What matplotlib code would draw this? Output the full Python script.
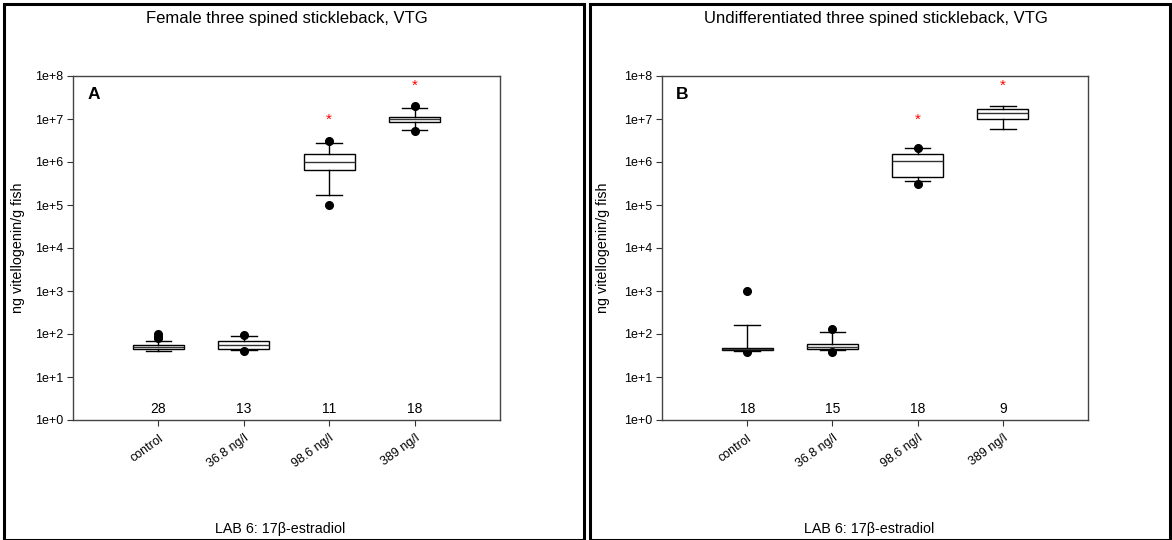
import math
import matplotlib
matplotlib.use("Agg")
import matplotlib.pyplot as plt
from matplotlib.patches import Rectangle
from matplotlib.ticker import FixedLocator, FuncFormatter, NullLocator
import matplotlib.transforms as mtransforms

plt.rcParams["font.family"] = ["Liberation Sans", "DejaVu Sans"]

# ---- data -------------------------------------------------------------
groups = ["control", "36.8 ng/l", "98.6 ng/l", "389 ng/l"]

female_title = "Female three spined stickleback, VTG"
female_n = [28, 13, 11, 18]
female_whislo = [40, 42, 1.7e5, 5.5e6]
female_q1 = [44, 46, 6.5e5, 8.4e6]
female_med = [49, 56, 9.8e5, 9.8e6]
female_q3 = [56, 70, 1.5e6, 1.12e7]
female_whishi = [68, 91, 2.7e6, 1.78e7]
female_fliers = [[80, 87, 100], [40, 97], [1.0e5, 3.1e6], [5.3e6, 2.0e7]]

undiff_title = "Undifferentiated three spined stickleback, VTG"
undiff_n = [18, 15, 18, 9]
undiff_whislo = [41, 42, 3.7e5, 5.9e6]
undiff_q1 = [42, 46, 4.5e5, 1.0e7]
undiff_med = [44, 50, 1.07e6, 1.35e7]
undiff_q3 = [47, 58, 1.5e6, 1.7e7]
undiff_whishi = [165, 113, 2.1e6, 2.0e7]
undiff_fliers = [[39, 1000], [38, 128], [3.1e5, 2.1e6], []]

# significance markers (group index, height)
star_groups = [2, 3]
star_y = [1.2e7, 7.4e7]

ylabel = "ng vitellogenin/g fish"
xlabel = "LAB 6: 17\u03b2-estradiol"

# ---- figure -----------------------------------------------------------
W, H = 1172, 540
fig = plt.figure(figsize=(W / 100, H / 100), dpi=100)


def px(x0, y0, w, h):
    return [x0 / W, 1 - (y0 + h) / H, w / W, h / H]


def panel(ax_rect, title, letter, n, whislo, q1, med, q3, whishi, fliers,
          frame, title_x, ylabel_x):
    ax = fig.add_axes(px(*ax_rect))
    stats = []
    for i in range(len(groups)):
        stats.append(dict(whislo=whislo[i], q1=q1[i], med=med[i], q3=q3[i],
                          whishi=whishi[i], fliers=fliers[i], label=groups[i]))
    pos = list(range(1, len(groups) + 1))
    ax.bxp(stats, positions=pos, widths=0.6, capwidths=0.3, showfliers=True,
           patch_artist=True,
           boxprops=dict(facecolor="white", edgecolor="black", linewidth=1.0),
           medianprops=dict(color="#333333", linewidth=1.0),
           whiskerprops=dict(color="black", linewidth=1.0),
           capprops=dict(color="black", linewidth=1.0),
           flierprops=dict(marker="o", markerfacecolor="black",
                           markeredgecolor="black", markersize=5.5))
    ax.set_yscale("log")
    ax.set_ylim(1, 1e8)
    ax.set_xlim(0, 5)
    ax.yaxis.set_major_locator(FixedLocator([10.0 ** k for k in range(9)]))
    ax.yaxis.set_minor_locator(NullLocator())
    ax.yaxis.set_major_formatter(
        FuncFormatter(lambda v, p: "1e+%d" % round(math.log10(v))))
    ax.set_xticks(pos)
    ax.set_xticklabels(groups, rotation=36, ha="right", rotation_mode="anchor",
                       fontsize=9)
    ax.tick_params(axis="y", labelsize=9, length=4, width=0.8, color="#333333",
                   direction="out", pad=3)
    ax.tick_params(axis="x", length=4, width=0.8, color="#333333",
                   direction="out", pad=5)
    for s in ax.spines.values():
        s.set_color("#444444")
        s.set_linewidth(1.0)

    star_shift = mtransforms.offset_copy(ax.transData, fig=fig, x=0, y=-4,
                                         units="dots")
    for g, y in zip(star_groups, star_y):
        ax.text(pos[g], y, "*", color="red", ha="center", va="center",
                fontsize=11, transform=star_shift)

    trans = mtransforms.blended_transform_factory(ax.transData, ax.transAxes)
    for p, k in zip(pos, n):
        ax.text(p, 0.012, str(k), transform=trans, ha="center", va="bottom",
                fontsize=10)

    ax.text(0.033, 0.968, letter, transform=ax.transAxes, ha="left", va="top",
            fontsize=12.5, fontweight="bold")

    cx = (ax_rect[0] + ax_rect[2] / 2) / W
    fig.text(title_x / W, 1 - 18 / H, title, ha="center", va="center",
             fontsize=12)
    fig.text(cx - 6 / W, 1 - 529 / H, xlabel, ha="center", va="center",
             fontsize=10.3)
    fig.text(ylabel_x / W, 1 - 248 / H, ylabel, ha="center", va="center",
             rotation=90, fontsize=10.3)

    fig.add_artist(Rectangle((frame[0] / W, 0), (frame[1] - frame[0]) / W,
                             1 - frame[2] / H, transform=fig.transFigure,
                             fill=False, edgecolor="black", linewidth=2.2))
    return ax


panel((73, 76, 427, 344), female_title, "A", female_n, female_whislo,
      female_q1, female_med, female_q3, female_whishi, female_fliers,
      (3.5, 584, 3.5), 287, 18)
panel((662, 76, 426, 344), undiff_title, "B", undiff_n, undiff_whislo,
      undiff_q1, undiff_med, undiff_q3, undiff_whishi, undiff_fliers,
      (589.5, 1169.5, 3.5), 876, 603)

fig.savefig("out.png", dpi=100)
